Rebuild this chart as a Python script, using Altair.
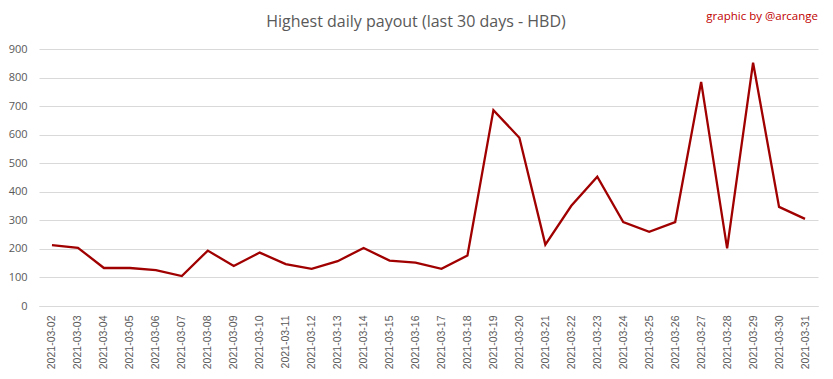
import altair as alt
import pandas as pd

dates = [f"2021-03-{d:02d}" for d in range(2, 32)]
values = [213, 204, 133, 133, 126, 105, 194, 140, 187, 147,
          130, 157, 203, 159, 152, 130, 177, 686, 589, 215,
          351, 453, 294, 260, 294, 785, 202, 852, 347, 305]
y_ticks = [0, 100, 200, 300, 400, 500, 600, 700, 800, 900]
title_text = "Highest daily payout (last 30 days - HBD)"
credit_text = "graphic by @arcange"

df = pd.DataFrame({"date": dates, "payout": values})

FONT = "Open Sans"
GREY = "#595959"

line = alt.Chart(df).mark_line(color="#a00000", strokeWidth=2.3).encode(
    x=alt.X("date:N", sort=dates, title=None,
            scale=alt.Scale(paddingInner=0, paddingOuter=0.5),
            axis=alt.Axis(labelAngle=-90, labelFontSize=10.5, labelColor=GREY,
                          labelFont="Liberation Sans", ticks=False, domain=True,
                          domainColor="#d9d9d9", grid=False, labelPadding=9)),
    y=alt.Y("payout:Q", title=None,
            scale=alt.Scale(domain=[0, 900], nice=False),
            axis=alt.Axis(values=y_ticks, labelFontSize=11, labelColor=GREY,
                          labelFont=FONT, ticks=False, domain=False,
                          gridColor="#d9d9d9", labelPadding=12)),
)

txt = pd.DataFrame({"t": [title_text]})
title = alt.Chart(txt).mark_text(fontSize=16, font=FONT, color=GREY,
                                  align="center", baseline="middle").encode(
    text="t:N", x=alt.value(377), y=alt.value(-27))

cred = pd.DataFrame({"t": [credit_text]})
credit = alt.Chart(cred).mark_text(fontSize=11.5, font=FONT, color="#c00000",
                                    align="right", baseline="middle").encode(
    text="t:N", x=alt.value(779), y=alt.value(-32))

chart = alt.layer(line, title, credit).properties(
    width=779, height=257,
    autosize=alt.AutoSizeParams(type="none"),
    padding={"left": 31, "top": 41, "right": 7, "bottom": 65},
    background="white",
).configure_view(stroke=None)

chart.save("out.html", embed_options={"renderer": "svg", "actions": False})
